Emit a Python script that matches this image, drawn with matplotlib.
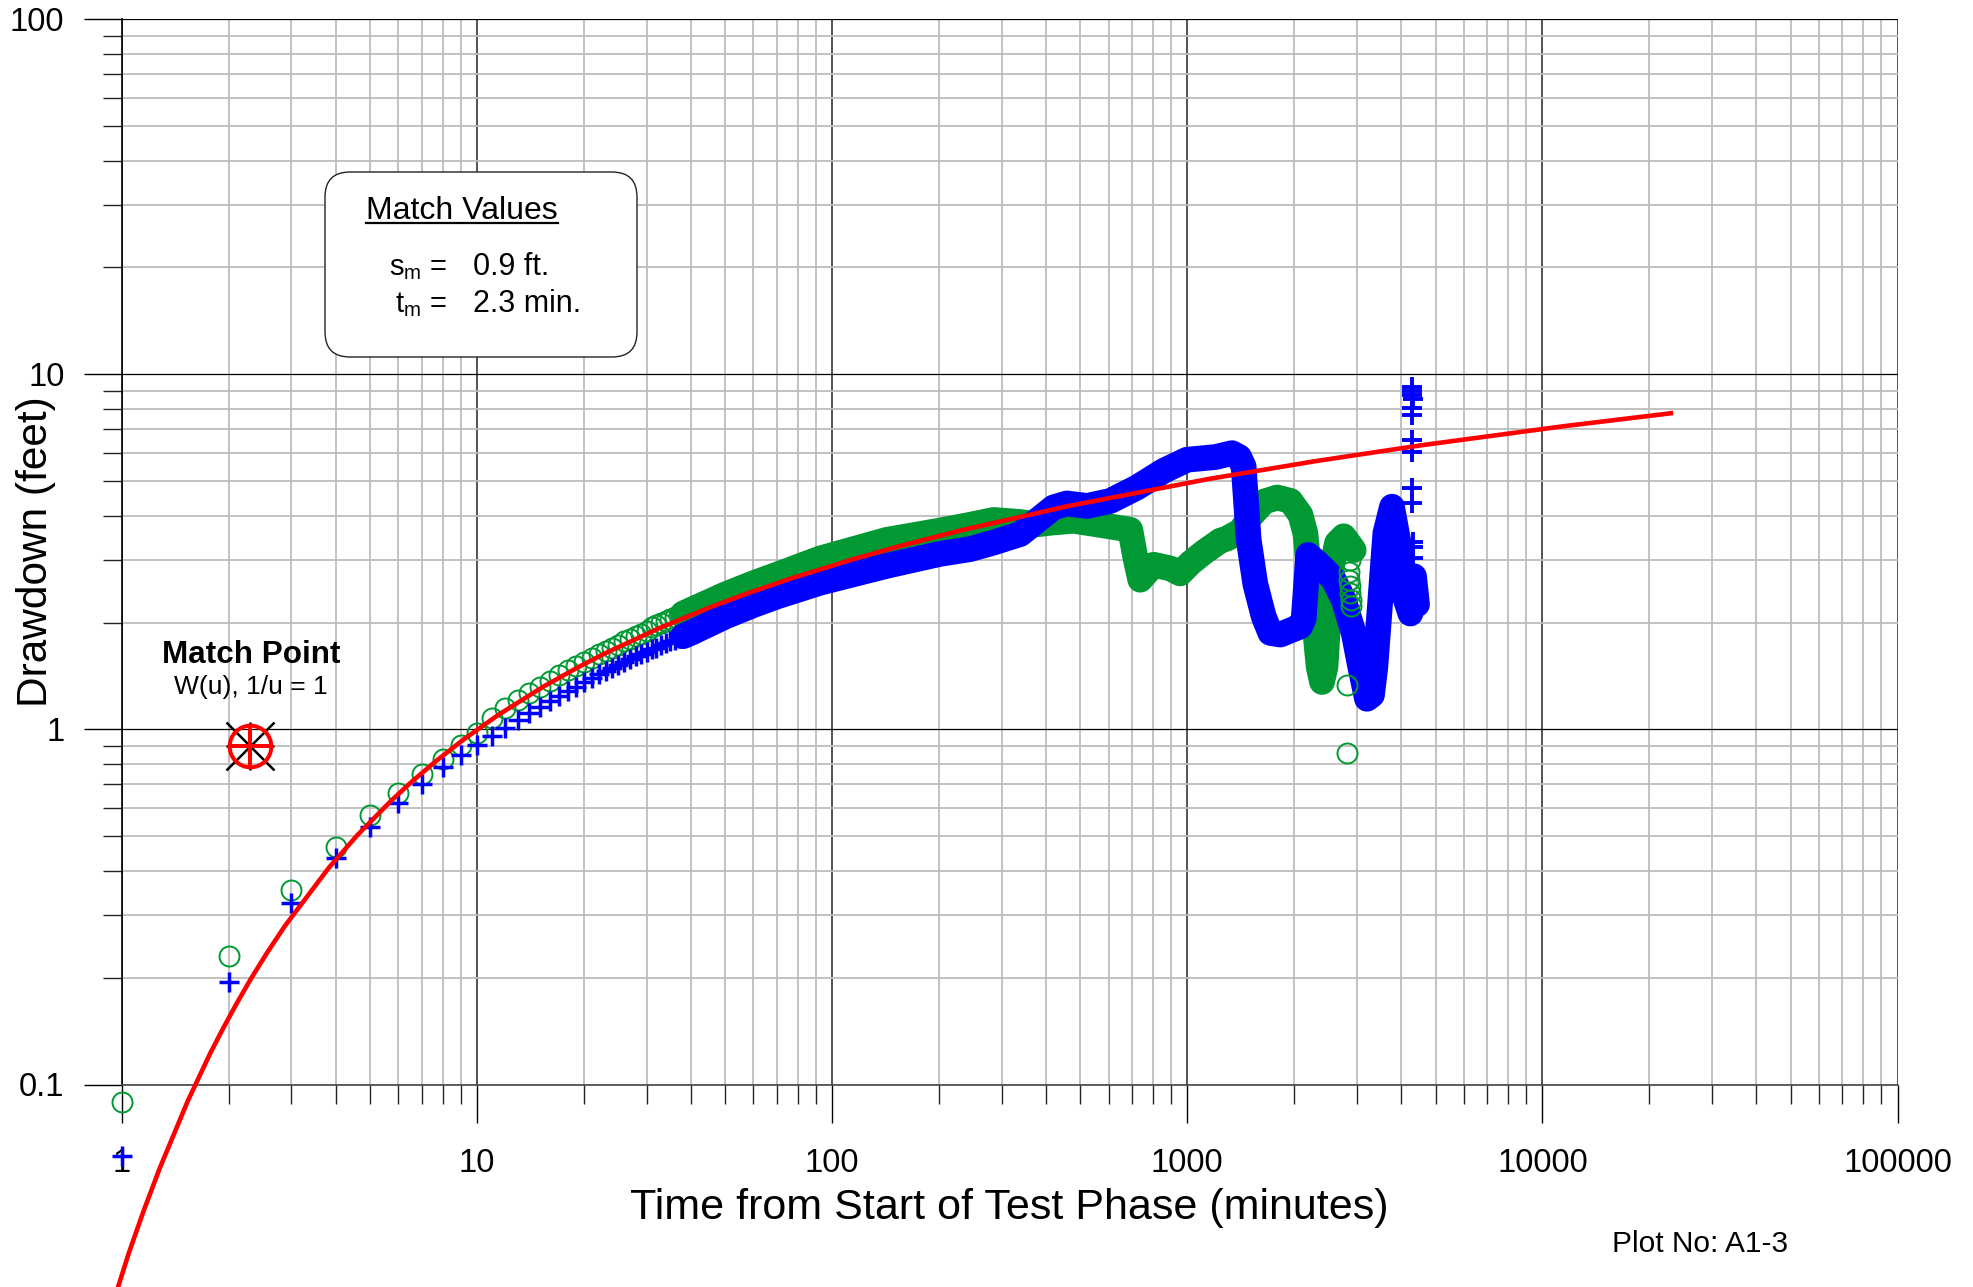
import matplotlib
matplotlib.use("Agg")
import matplotlib.pyplot as plt
from matplotlib.ticker import FixedLocator, FixedFormatter, LogLocator, NullFormatter
from matplotlib.patches import FancyBboxPatch
from matplotlib.lines import Line2D

plt.rcParams['font.family'] = ['Liberation Sans', 'DejaVu Sans']
plt.rcParams['mathtext.fontset'] = 'custom'
plt.rcParams['mathtext.rm'] = 'Liberation Sans'
plt.rcParams['mathtext.it'] = 'Liberation Sans:italic'

# --- dados ---
# primeiras leituras, uma por minuto
t_early = list(range(1, 41))
green_early = [0.089, 0.23, 0.354, 0.468, 0.573, 0.663, 0.749, 0.827, 0.905, 0.98,
               1.08, 1.15, 1.21, 1.27, 1.32, 1.37, 1.42, 1.47, 1.51, 1.55,
               1.59, 1.63, 1.66, 1.70, 1.73, 1.77, 1.80, 1.83, 1.86, 1.89,
               1.94, 1.97, 2.00, 2.02, 2.05, 2.07, 2.10, 2.12, 2.14, 2.17]
blue_early = [0.063, 0.194, 0.324, 0.435, 0.532, 0.621, 0.703, 0.782, 0.847, 0.905,
              0.96, 1.01, 1.06, 1.11, 1.16, 1.20, 1.245, 1.285, 1.32, 1.36,
              1.395, 1.43, 1.46, 1.49, 1.52, 1.55, 1.58, 1.605, 1.63, 1.655,
              1.68, 1.70, 1.73, 1.75, 1.77, 1.79, 1.81, 1.83, 1.85, 1.87]

# trecho denso (marcadores sobrepostos formam uma faixa)
green_t = [38, 40, 50, 60, 70, 92.5, 142.6, 200.6, 244.7, 284.7, 338, 377, 411, 478,
           557, 648, 691, 714, 737, 804, 896, 955, 1020, 1111, 1238, 1294, 1412,
           1507, 1643, 1791, 1953, 2083, 2150, 2197, 2245, 2295, 2344, 2395, 2450,
           2500, 2560, 2640, 2756, 2878, 2941]
green_s = [2.12, 2.17, 2.40, 2.58, 2.73, 3.03, 3.42, 3.63, 3.77, 3.89, 3.84, 3.78, 3.82, 3.87,
           3.78, 3.69, 3.65, 3.05, 2.64, 2.91, 2.84, 2.75, 2.94, 3.15, 3.40, 3.45, 3.62,
           3.98, 4.38, 4.50, 4.40, 4.02, 3.57, 2.87, 2.32, 1.87, 1.50, 1.36, 1.50,
           2.10, 2.90, 3.35, 3.50, 3.30, 3.20]

blue_t = [38, 40, 50, 60, 70, 92.5, 142.6, 200.6, 244.7, 284.7, 338.5, 377, 420, 458,
          522, 607, 721, 858, 998, 1200, 1336, 1400, 1441, 1489, 1554, 1641, 1713,
          1828, 1950, 2080, 2127, 2190, 2319, 2450, 2583, 2756, 2941, 3070, 3206,
          3312, 3385, 3497, 3612, 3771, 3937, 4068, 4248, 4350, 4436]
blue_s = [1.83, 1.87, 2.08, 2.24, 2.37, 2.59, 2.89, 3.12, 3.22, 3.36, 3.55, 3.87, 4.22, 4.33,
          4.26, 4.40, 4.80, 5.35, 5.75, 5.85, 6.00, 5.85, 5.50, 3.42, 2.57, 2.08, 1.87,
          1.85, 1.90, 1.95, 2.05, 3.10, 2.95, 2.80, 2.64, 2.32, 1.87, 1.50, 1.22,
          1.25, 1.50, 2.32, 3.57, 4.24, 3.35, 2.42, 2.12, 2.70, 2.25]

# pontos isolados no final
green_late_t = [2812, 2818, 2878, 2860, 2850, 2870, 2880, 2890, 2900]
green_late_s = [1.33, 0.86, 3.00, 2.78, 2.64, 2.53, 2.42, 2.32, 2.22]
blue_late_t = [4290, 4300, 4280, 4310, 4290, 4300, 4290, 4280, 4300, 4290, 4320, 4310, 4330, 4320]
blue_late_s = [9.24, 9.0, 8.76, 8.51, 8.03, 7.69, 6.54, 6.06, 4.78, 4.34, 3.38, 3.27, 3.03, 2.75]

# curva tipo de Theis ajustada
theis_t = [0.92, 1.045, 1.15, 1.278, 1.533, 1.769, 1.917, 2.091, 2.3, 2.556, 2.875, 3.833,
           4.6, 5.75, 6.571, 7.667, 9.2, 11.5, 15.33, 19.17, 23, 32.86, 46, 57.5, 76.67,
           115, 153.3, 230, 460, 1150, 2300, 4600, 11500, 23000]
theis_s = [0.0224, 0.0335, 0.0440, 0.0582, 0.0900, 0.1220, 0.1426, 0.1674, 0.1975, 0.2342,
           0.2795, 0.4090, 0.5038, 0.6322, 0.7148, 0.8151, 0.9399, 1.1004, 1.3181, 1.4936,
           1.6406, 1.9357, 2.2211, 2.4132, 2.6632, 3.0192, 3.2737, 3.6341, 4.2535, 5.0755,
           5.6984, 6.3218, 7.1462, 7.7699]

match_t, match_s = 2.3, 0.9

x_ticks = [1, 10, 100, 1000, 10000, 100000]
x_labels = ['1', '10', '100', '1000', '10000', '100000']
y_ticks = [0.1, 1, 10, 100]
y_labels = ['0.1', '1', '10', '100']

GREEN = '#009933'
BLUE = '#0000ff'
RED = '#ff0000'

W, H = 1973, 1287
fig = plt.figure(figsize=(W / 100, H / 100), dpi=100)
ax = fig.add_axes([122 / W, (H - 1084.5) / H, 1775.5 / W, 1065.2 / H])
ax.set_xscale('log')
ax.set_yscale('log')
ax.set_xlim(1, 100000)
ax.set_ylim(0.1, 100)

ax.xaxis.set_major_locator(FixedLocator(x_ticks))
ax.xaxis.set_major_formatter(FixedFormatter(x_labels))
ax.yaxis.set_major_locator(FixedLocator(y_ticks))
ax.yaxis.set_major_formatter(FixedFormatter(y_labels))
ax.xaxis.set_minor_locator(LogLocator(base=10, subs=range(2, 10), numticks=20))
ax.yaxis.set_minor_locator(LogLocator(base=10, subs=range(2, 10), numticks=20))
ax.xaxis.set_minor_formatter(NullFormatter())
ax.yaxis.set_minor_formatter(NullFormatter())

ax.tick_params(which='major', direction='out', length=27.4, width=1.0, color='black',
               labelsize=23.5)
ax.tick_params(axis='x', which='major', pad=18)
ax.tick_params(axis='y', which='major', pad=14)
ax.tick_params(which='minor', direction='out', length=13.7, width=1.0, color='#222222')

ax.xaxis.grid(True, which='major', color='#454545', lw=1.3)
ax.yaxis.grid(True, which='major', color='black', lw=0.9)
ax.grid(True, which='minor', color='#bdbdbd', lw=1.3)
ax.set_axisbelow(True)
for side in ['top', 'right']:
    ax.spines[side].set_visible(False)
ax.spines['left'].set_linewidth(1.2)
ax.spines['bottom'].set_color('#444444')
ax.spines['bottom'].set_linewidth(1.2)

# faixas densas
ax.plot(green_t, green_s, color=GREEN, lw=18.5, solid_capstyle='round', solid_joinstyle='round', zorder=3)
ax.plot(blue_t, blue_s, color=BLUE, lw=18.5, solid_capstyle='round', solid_joinstyle='round', zorder=4)

# marcadores individuais
ax.plot(t_early, green_early, 'o', ms=14.4, mfc='none', mec=GREEN, mew=1.4, clip_on=False, zorder=3)
ax.plot(t_early, blue_early, '+', ms=15, mec=BLUE, mew=2.5, clip_on=False, zorder=4)
ax.plot(green_late_t, green_late_s, 'o', ms=14.4, mfc='none', mec=GREEN, mew=1.4, zorder=5)
ax.plot(blue_late_t, blue_late_s, '+', ms=15, mec=BLUE, mew=2.8, zorder=5)

# curva de Theis
ax.plot(theis_t, theis_s, color=RED, lw=3.3, clip_on=False, zorder=6)

# ponto de ajuste
ax.plot(match_t, match_s, 'x', ms=34, mec='black', mew=1.8, zorder=7)
ax.plot(match_t, match_s, '+', ms=34, mec='black', mew=1.8, zorder=7)
ax.plot(match_t, match_s, 'o', ms=30, mfc='none', mec=RED, mew=2.9, zorder=8)
ax.plot(match_t, match_s, '+', ms=30, mec=RED, mew=2.9, zorder=8)

ax.set_xlabel('Time from Start of Test Phase (minutes)', fontsize=31)
ax.xaxis.set_label_coords(0.5, -(1208 - 1084.5) / 1065.2)
ax.xaxis.label.set_va('center')
ax.set_ylabel('Drawdown (feet)', fontsize=30.5)
ax.yaxis.set_label_coords((36 - 122) / 1775.5, 0.5)
ax.yaxis.label.set_va('center')


def fx(x):
    return x / W


def fy(y):
    return 1 - y / H


# caixa "Match Values"
box = FancyBboxPatch((3.25, (H - 357) / 100), 3.12, 1.85,
                     boxstyle='round,pad=0,rounding_size=0.25',
                     transform=fig.dpi_scale_trans, fc='white', ec='#222222', lw=1.0, zorder=10)
fig.add_artist(box)
title = fig.text(fx(462), fy(219), 'Match Values', fontsize=23, ha='center', va='baseline', zorder=11)
fig.text(fx(447), fy(275), r'$\mathregular{s_m}$ =', fontsize=21, ha='right', va='baseline', zorder=11)
fig.text(fx(473), fy(275), '0.9 ft.', fontsize=22, ha='left', va='baseline', zorder=11)
fig.text(fx(447), fy(311.7), r'$\mathregular{t_m}$ =', fontsize=21, ha='right', va='baseline', zorder=11)
fig.text(fx(473), fy(311.7), '2.3 min.', fontsize=22, ha='left', va='baseline', zorder=11)

fig.canvas.draw()
bb = title.get_window_extent()
fig.add_artist(Line2D([bb.x0 / W, bb.x1 / W], [fy(222.5), fy(222.5)],
                      transform=fig.transFigure, color='black', lw=1.6, zorder=11))

fig.text(fx(251), fy(663), 'Match Point', fontsize=22.6, fontweight='bold', ha='center', va='baseline')
fig.text(fx(251), fy(694), 'W(u), 1/u = 1', fontsize=19, ha='center', va='baseline')
fig.text(fx(1700), fy(1251.7), 'Plot No: A1-3', fontsize=21.5, ha='center', va='baseline')

fig.savefig('out.png', dpi=100)
